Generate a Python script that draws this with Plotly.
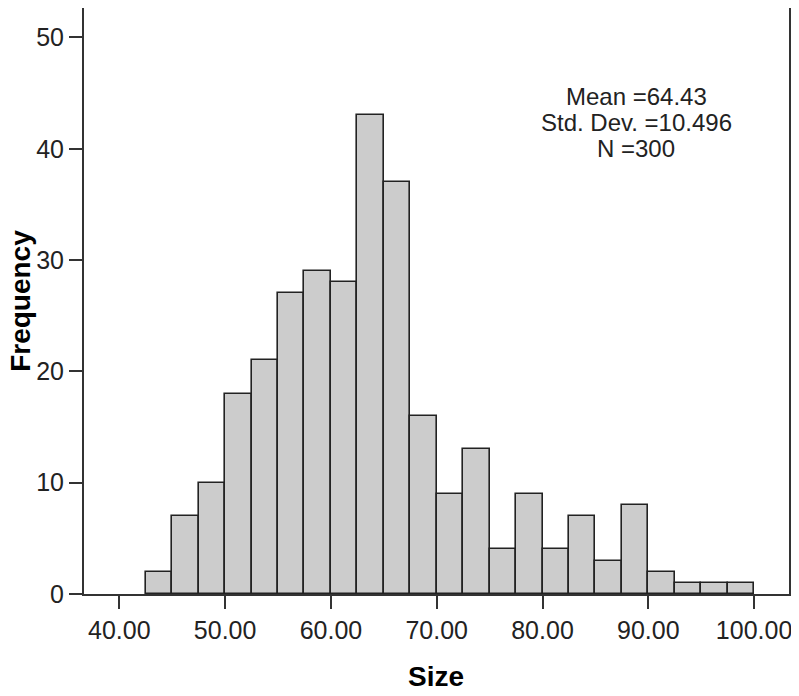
import plotly.graph_objects as go

# histogram bins (width 2.5)
bin_starts = [42.5, 45.0, 47.5, 50.0, 52.5, 55.0, 57.5, 60.0, 62.5, 65.0, 67.5,
              70.0, 72.5, 75.0, 77.5, 80.0, 82.5, 85.0, 87.5, 90.0, 92.5, 95.0, 97.5]
frequency = [2, 7, 10, 18, 21, 27, 29, 28, 43, 37, 16,
             9, 13, 4, 9, 4, 7, 3, 8, 2, 1, 1, 1]
bin_width = 2.5

x_ticks = [40, 50, 60, 70, 80, 90, 100]
y_ticks = [0, 10, 20, 30, 40, 50]
stats_lines = ["Mean =64.43", "Std. Dev. =10.496", "N =300"]

centers = [s + bin_width / 2 for s in bin_starts]

fig = go.Figure()
fig.add_trace(go.Bar(
    x=centers,
    y=frequency,
    width=bin_width,
    marker=dict(color='#cccccc', line=dict(color='#222222', width=1.6)),
    showlegend=False
))

axis_color = '#333333'
text_color = '#222222'

# stats box text, one annotation per line to keep the tight spacing
annotations = []
for i, line in enumerate(stats_lines):
    annotations.append(dict(
        x=0.783, y=0.849 - i * 0.044, xref='paper', yref='paper',
        text=line, showarrow=False, xanchor='center', yanchor='middle',
        font=dict(size=24, color=text_color)
    ))

# axis titles
annotations.append(dict(
    x=-0.091, y=0.5, xref='paper', yref='paper', textangle=-90,
    text='<b>Frequency</b>', showarrow=False, xanchor='center', yanchor='middle',
    font=dict(size=28, color='black')
))
annotations.append(dict(
    x=0.499, y=-0.14, xref='paper', yref='paper',
    text='<b>Size</b>', showarrow=False, xanchor='center', yanchor='middle',
    font=dict(size=28, color='black')
))

fig.update_layout(
    width=791,
    height=688,
    margin=dict(l=76, r=10, t=0, b=102),
    plot_bgcolor='white',
    paper_bgcolor='white',
    font=dict(family='Liberation Sans, Arial', color=text_color, size=25),
    bargap=0,
    xaxis=dict(
        range=[36.66, 103.3],
        tickvals=x_ticks,
        ticktext=[f'{v:.2f}' for v in x_ticks],
        ticks='outside', ticklen=13, tickwidth=2, tickcolor=axis_color,
        showline=True, linecolor=axis_color, linewidth=2, mirror=True,
        showgrid=False, zeroline=False, automargin=False,
        ticklabeloverflow='allow',
        tickfont=dict(size=25)
    ),
    yaxis=dict(
        range=[0, 52.65],
        tickvals=y_ticks,
        ticks='outside', ticklen=13, tickwidth=2, tickcolor=axis_color,
        showline=True, linecolor=axis_color, linewidth=2, mirror=True,
        showgrid=False, zeroline=False, automargin=False,
        ticklabeloverflow='allow',
        tickfont=dict(size=25)
    ),
    annotations=annotations
)

fig.write_html("out.html")
